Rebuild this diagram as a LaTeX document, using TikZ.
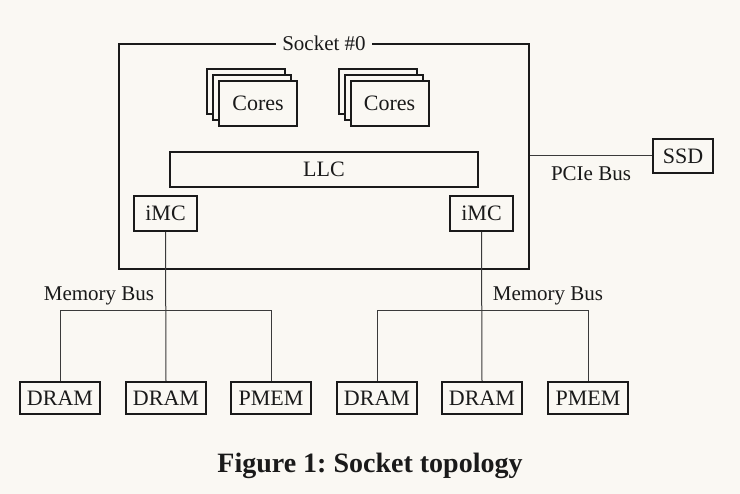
\documentclass[tikz,border=0pt]{standalone}
\usepackage{fontspec}
\setmainfont{Liberation Serif}
\definecolor{bg}{HTML}{FAF8F3}
\definecolor{ink}{HTML}{1A1A1A}
\definecolor{wire}{HTML}{3A3A3A}
\begin{document}
\begin{tikzpicture}[x=1pt,y=-1pt,
  box/.style={draw=ink,line width=2pt,fill=bg,inner sep=0pt,text=ink,font=\fontsize{22}{26}\selectfont},
  wirestyle/.style={draw=wire,line width=1pt},
  lbl/.style={text=ink,inner sep=0pt,font=\fontsize{21}{25}\selectfont}]
\fill[bg] (0,0) rectangle (740,494);
\useasboundingbox (0,0) rectangle (740,494);
% socket
\node[box,fill=none,minimum width=410pt,minimum height=225pt] (socket) at (324,156.5) {};
\node[lbl,fill=bg,inner xsep=6pt,inner ysep=2pt] (sockettitle) at (socket.north) {Socket \#0};
% cores stacks
\foreach \n/\cx in {c1/258,c2/389.5}{
  \node[box,minimum width=78pt,minimum height=45pt] (\n b) at (\cx-12,91.5) {};
  \node[box,minimum width=78pt,minimum height=45pt] (\n m) at (\cx-6,97.5) {};
  \node[box,minimum width=78pt,minimum height=45pt] (\n) at (\cx,103.5) {Cores};
}
\node[box,minimum width=308pt,minimum height=35pt] (llc) at (324,169.5) {LLC};
\node[box,minimum width=63pt,minimum height=35pt] (imcl) at (165.5,213.5) {iMC};
\node[box,minimum width=63pt,minimum height=35pt] (imcr) at (481.5,213.5) {iMC};
% SSD
\node[box,minimum width=60pt,minimum height=34pt] (ssd) at (683,156) {SSD};
\draw[wirestyle] (socket.east |- ssd.west) -- (ssd.west);
\node[lbl] (pcie) at (591,174) {PCIe Bus};
% memory
\foreach \n/\x/\t in {d1/60/DRAM,d2/166/DRAM,p1/271/PMEM,d3/377/DRAM,d4/482/DRAM,p2/588/PMEM}{
  \node[box,minimum width=80pt,minimum height=32pt] (\n) at (\x,398) {\t};
}
\coordinate (busy) at (0,311);
\draw[wirestyle] (imcl.south) -- (d2.north);
\draw[wirestyle] (imcr.south) -- (d4.north);
\draw[wirestyle] (d1.north) -- (d1.north |- busy) -- (p1.north |- busy) -- (p1.north);
\draw[wirestyle] (d3.north) -- (d3.north |- busy) -- (p2.north |- busy) -- (p2.north);
\node[lbl] (mbl) at (99,296) {Memory Bus};
\node[lbl] (mbr) at (548,296) {Memory Bus};
% caption
\node[text=ink,inner sep=0pt,font=\fontsize{28}{32}\selectfont\bfseries] (caption) at (370,466) {\frenchspacing Figure 1: Socket topology};
\end{tikzpicture}
\end{document}
